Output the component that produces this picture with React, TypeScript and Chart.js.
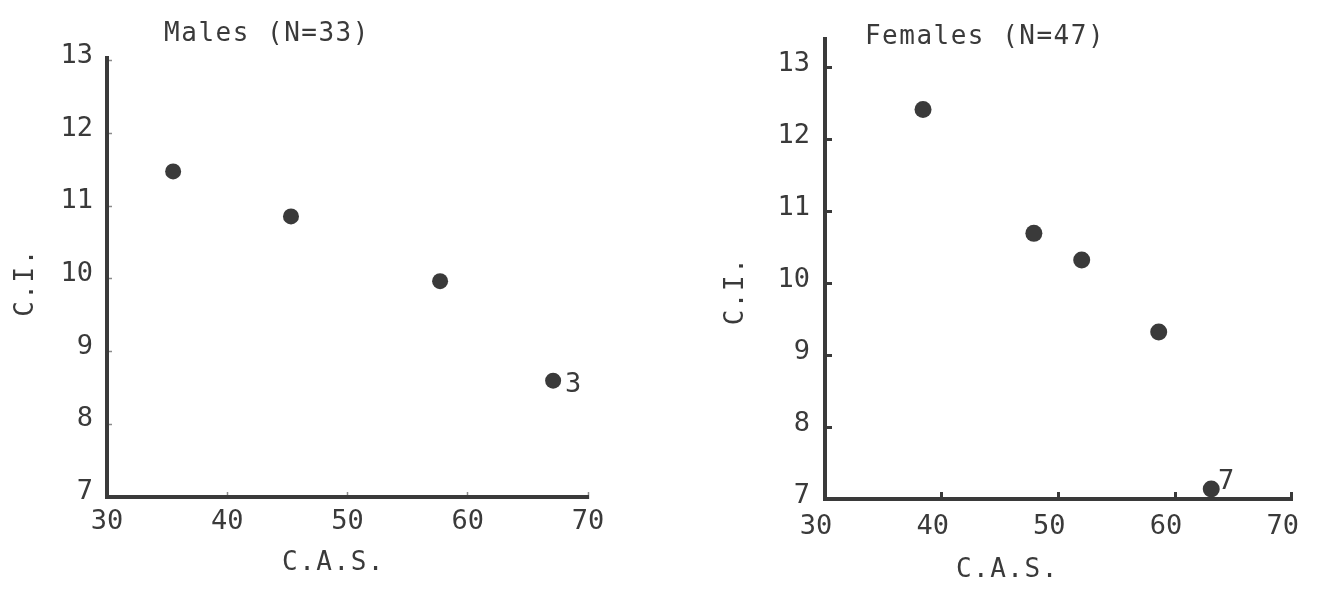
import React, { useEffect, useRef } from 'react';
import { Chart, registerables } from 'chart.js';

Chart.register(...registerables);

// ---- data ----
const xTicks = [30, 40, 50, 60, 70];
const yTicks = [7, 8, 9, 10, 11, 12, 13];

const maleCAS = [35.5, 45.3, 57.7, 67.1];
const maleCI = [11.48, 10.86, 9.97, 8.6];
const maleNotes = ['', '', '', '3'];

const femaleCAS = [38.4, 47.9, 52.0, 58.6, 63.1];
const femaleCI = [12.41, 10.69, 10.32, 9.32, 7.14];
const femaleNotes = ['', '', '', '', '7'];

const maleTitle = 'Males (N=33)';
const femaleTitle = 'Females (N=47)';
const xTitle = 'C.A.S.';
const yTitle = 'C.I.';

// ---- style ----
const FONT = "'DejaVu Sans Mono', 'Liberation Mono', monospace";
const INK = '#3a3a3a';
const TEXT = '#3a3a3a';
const H = 596;

const panelText = {
  id: 'panelText',
  afterDraw(chart: any, _args: any, o: any) {
    const { ctx, chartArea: a } = chart;
    const cx = (a.left + a.right) / 2;
    const cy = (a.top + a.bottom) / 2;
    ctx.save();
    ctx.fillStyle = o.color;
    ctx.textAlign = 'center';
    ctx.textBaseline = 'middle';
    (ctx as any).letterSpacing = o.spacing + 'px';
    ctx.font = `${o.titleSize}px ${FONT}`;
    ctx.fillText(o.title, a.left + o.titleDx, a.top + o.titleDy);
    ctx.font = `${o.axisSize}px ${FONT}`;
    ctx.fillText(o.xTitle, cx + o.xTitleDx, a.bottom + o.xTitleDy);
    ctx.save();
    ctx.translate(a.left + o.yTitleDx, cy + o.yTitleDy);
    ctx.rotate(-Math.PI / 2);
    ctx.fillText(o.yTitle, 0, 0);
    ctx.restore();
    (ctx as any).letterSpacing = '0px';
    ctx.font = `${o.noteSize}px ${FONT}`;
    const meta = chart.getDatasetMeta(0);
    (o.notes as string[]).forEach((t, i) => {
      if (!t) return;
      const el = meta.data[i];
      ctx.fillText(t, el.x + o.noteDx, el.y + o.noteDy);
    });
    ctx.restore();
  },
};

type PanelSpec = {
  xs: number[];
  ys: number[];
  notes: string[];
  title: string;
  yMax: number;
  yWidth: number;
  xHeight: number;
  padTop: number;
  padRight: number;
  tickLen: number;
  tickWidth: number;
  tickColor: string;
  yPad: number;
  yLabelOffset: number;
  xPad: number;
  xLabelOffset: number;
  radius: number;
  titleDx: number;
  titleDy: number;
  xTitleDx: number;
  xTitleDy: number;
  yTitleDx: number;
  yTitleDy: number;
  noteDx: number;
  noteDy: number;
};

function makeConfig(p: PanelSpec): any {
  return {
    type: 'scatter',
    data: {
      datasets: [
        {
          data: p.xs.map((x, i) => ({ x, y: p.ys[i] })),
          backgroundColor: INK,
          borderWidth: 0,
          pointRadius: p.radius,
          pointHoverRadius: p.radius,
          clip: false,
        },
      ],
    },
    plugins: [panelText],
    options: {
      animation: false,
      responsive: false,
      devicePixelRatio: 1,
      events: [],
      layout: { padding: { top: p.padTop, right: p.padRight, left: 0, bottom: 0 } },
      plugins: {
        legend: { display: false },
        tooltip: { enabled: false },
        title: { display: false },
        panelText: {
          color: TEXT,
          spacing: 1.5,
          titleSize: 26,
          axisSize: 26,
          noteSize: 27,
          title: p.title,
          xTitle,
          yTitle,
          notes: p.notes,
          titleDx: p.titleDx,
          titleDy: p.titleDy,
          xTitleDx: p.xTitleDx,
          xTitleDy: p.xTitleDy,
          yTitleDx: p.yTitleDx,
          yTitleDy: p.yTitleDy,
          noteDx: p.noteDx,
          noteDy: p.noteDy,
        },
      },
      scales: {
        x: {
          type: 'linear',
          position: 'bottom',
          min: xTicks[0],
          max: xTicks[xTicks.length - 1],
          afterBuildTicks: (s: any) => {
            s.ticks = xTicks.map((v) => ({ value: v }));
          },
          afterFit: (s: any) => {
            s.height = p.xHeight;
          },
          border: { display: true, color: INK, width: 4 },
          grid: {
            display: true,
            drawOnChartArea: false,
            drawTicks: true,
            tickLength: p.tickLen,
            tickWidth: p.tickWidth,
            tickColor: p.tickColor,
          },
          ticks: {
            color: TEXT,
            font: { family: FONT, size: 27 },
            padding: p.xPad,
            labelOffset: p.xLabelOffset,
            maxRotation: 0,
            autoSkip: false,
          },
        },
        y: {
          type: 'linear',
          position: 'left',
          min: yTicks[0],
          max: p.yMax,
          afterBuildTicks: (s: any) => {
            s.ticks = yTicks.map((v) => ({ value: v }));
          },
          afterFit: (s: any) => {
            s.width = p.yWidth;
          },
          border: { display: true, color: INK, width: 4 },
          grid: {
            display: true,
            drawOnChartArea: false,
            drawTicks: true,
            tickLength: p.tickLen,
            tickWidth: p.tickWidth,
            tickColor: p.tickColor,
          },
          ticks: {
            color: TEXT,
            font: { family: FONT, size: 27 },
            padding: p.yPad,
            labelOffset: p.yLabelOffset,
            includeBounds: false,
            autoSkip: false,
          },
        },
      },
    },
  };
}

function Panel({ spec, left, width }: { spec: PanelSpec; left: number; width: number }) {
  const ref = useRef<HTMLCanvasElement>(null);
  useEffect(() => {
    const chart = new Chart(ref.current as HTMLCanvasElement, makeConfig(spec));
    return () => chart.destroy();
  }, []);
  return (
    <canvas
      ref={ref}
      width={width}
      height={H}
      style={{ position: 'absolute', left, top: 0, width, height: H, display: 'block' }}
    />
  );
}

const maleSpec: PanelSpec = {
  xs: maleCAS,
  ys: maleCI,
  notes: maleNotes,
  title: maleTitle,
  yMax: 13.04,
  yWidth: 107,
  xHeight: 99,
  padTop: 58,
  padRight: 75,
  tickLen: -5,
  tickWidth: 1.5,
  tickColor: '#8a8a8a',
  yPad: 19,
  yLabelOffset: -5,
  xPad: 14,
  xLabelOffset: 0,
  radius: 8,
  titleDx: 160,
  titleDy: -24,
  xTitleDx: -14,
  xTitleDy: 66,
  yTitleDx: -81,
  yTitleDy: 5,
  noteDx: 20,
  noteDy: 4,
};

const femaleSpec: PanelSpec = {
  xs: femaleCAS,
  ys: femaleCI,
  notes: femaleNotes,
  title: femaleTitle,
  yMax: 13.39,
  yWidth: 162,
  xHeight: 97,
  padTop: 39,
  padRight: 20,
  tickLen: -7,
  tickWidth: 3,
  tickColor: INK,
  yPad: 22,
  yLabelOffset: -3,
  xPad: 19,
  xLabelOffset: -9,
  radius: 8.5,
  titleDx: 160,
  titleDy: -2,
  xTitleDx: -51,
  xTitleDy: 71,
  yTitleDx: -89,
  yTitleDy: 22,
  noteDx: 15,
  noteDy: -7,
};

export default function App() {
  return (
    <div style={{ position: 'absolute', left: 0, top: 0, width: 1327, height: H, background: '#fff' }}>
      <Panel spec={maleSpec} left={0} width={663} />
      <Panel spec={femaleSpec} left={663} width={664} />
    </div>
  );
}
